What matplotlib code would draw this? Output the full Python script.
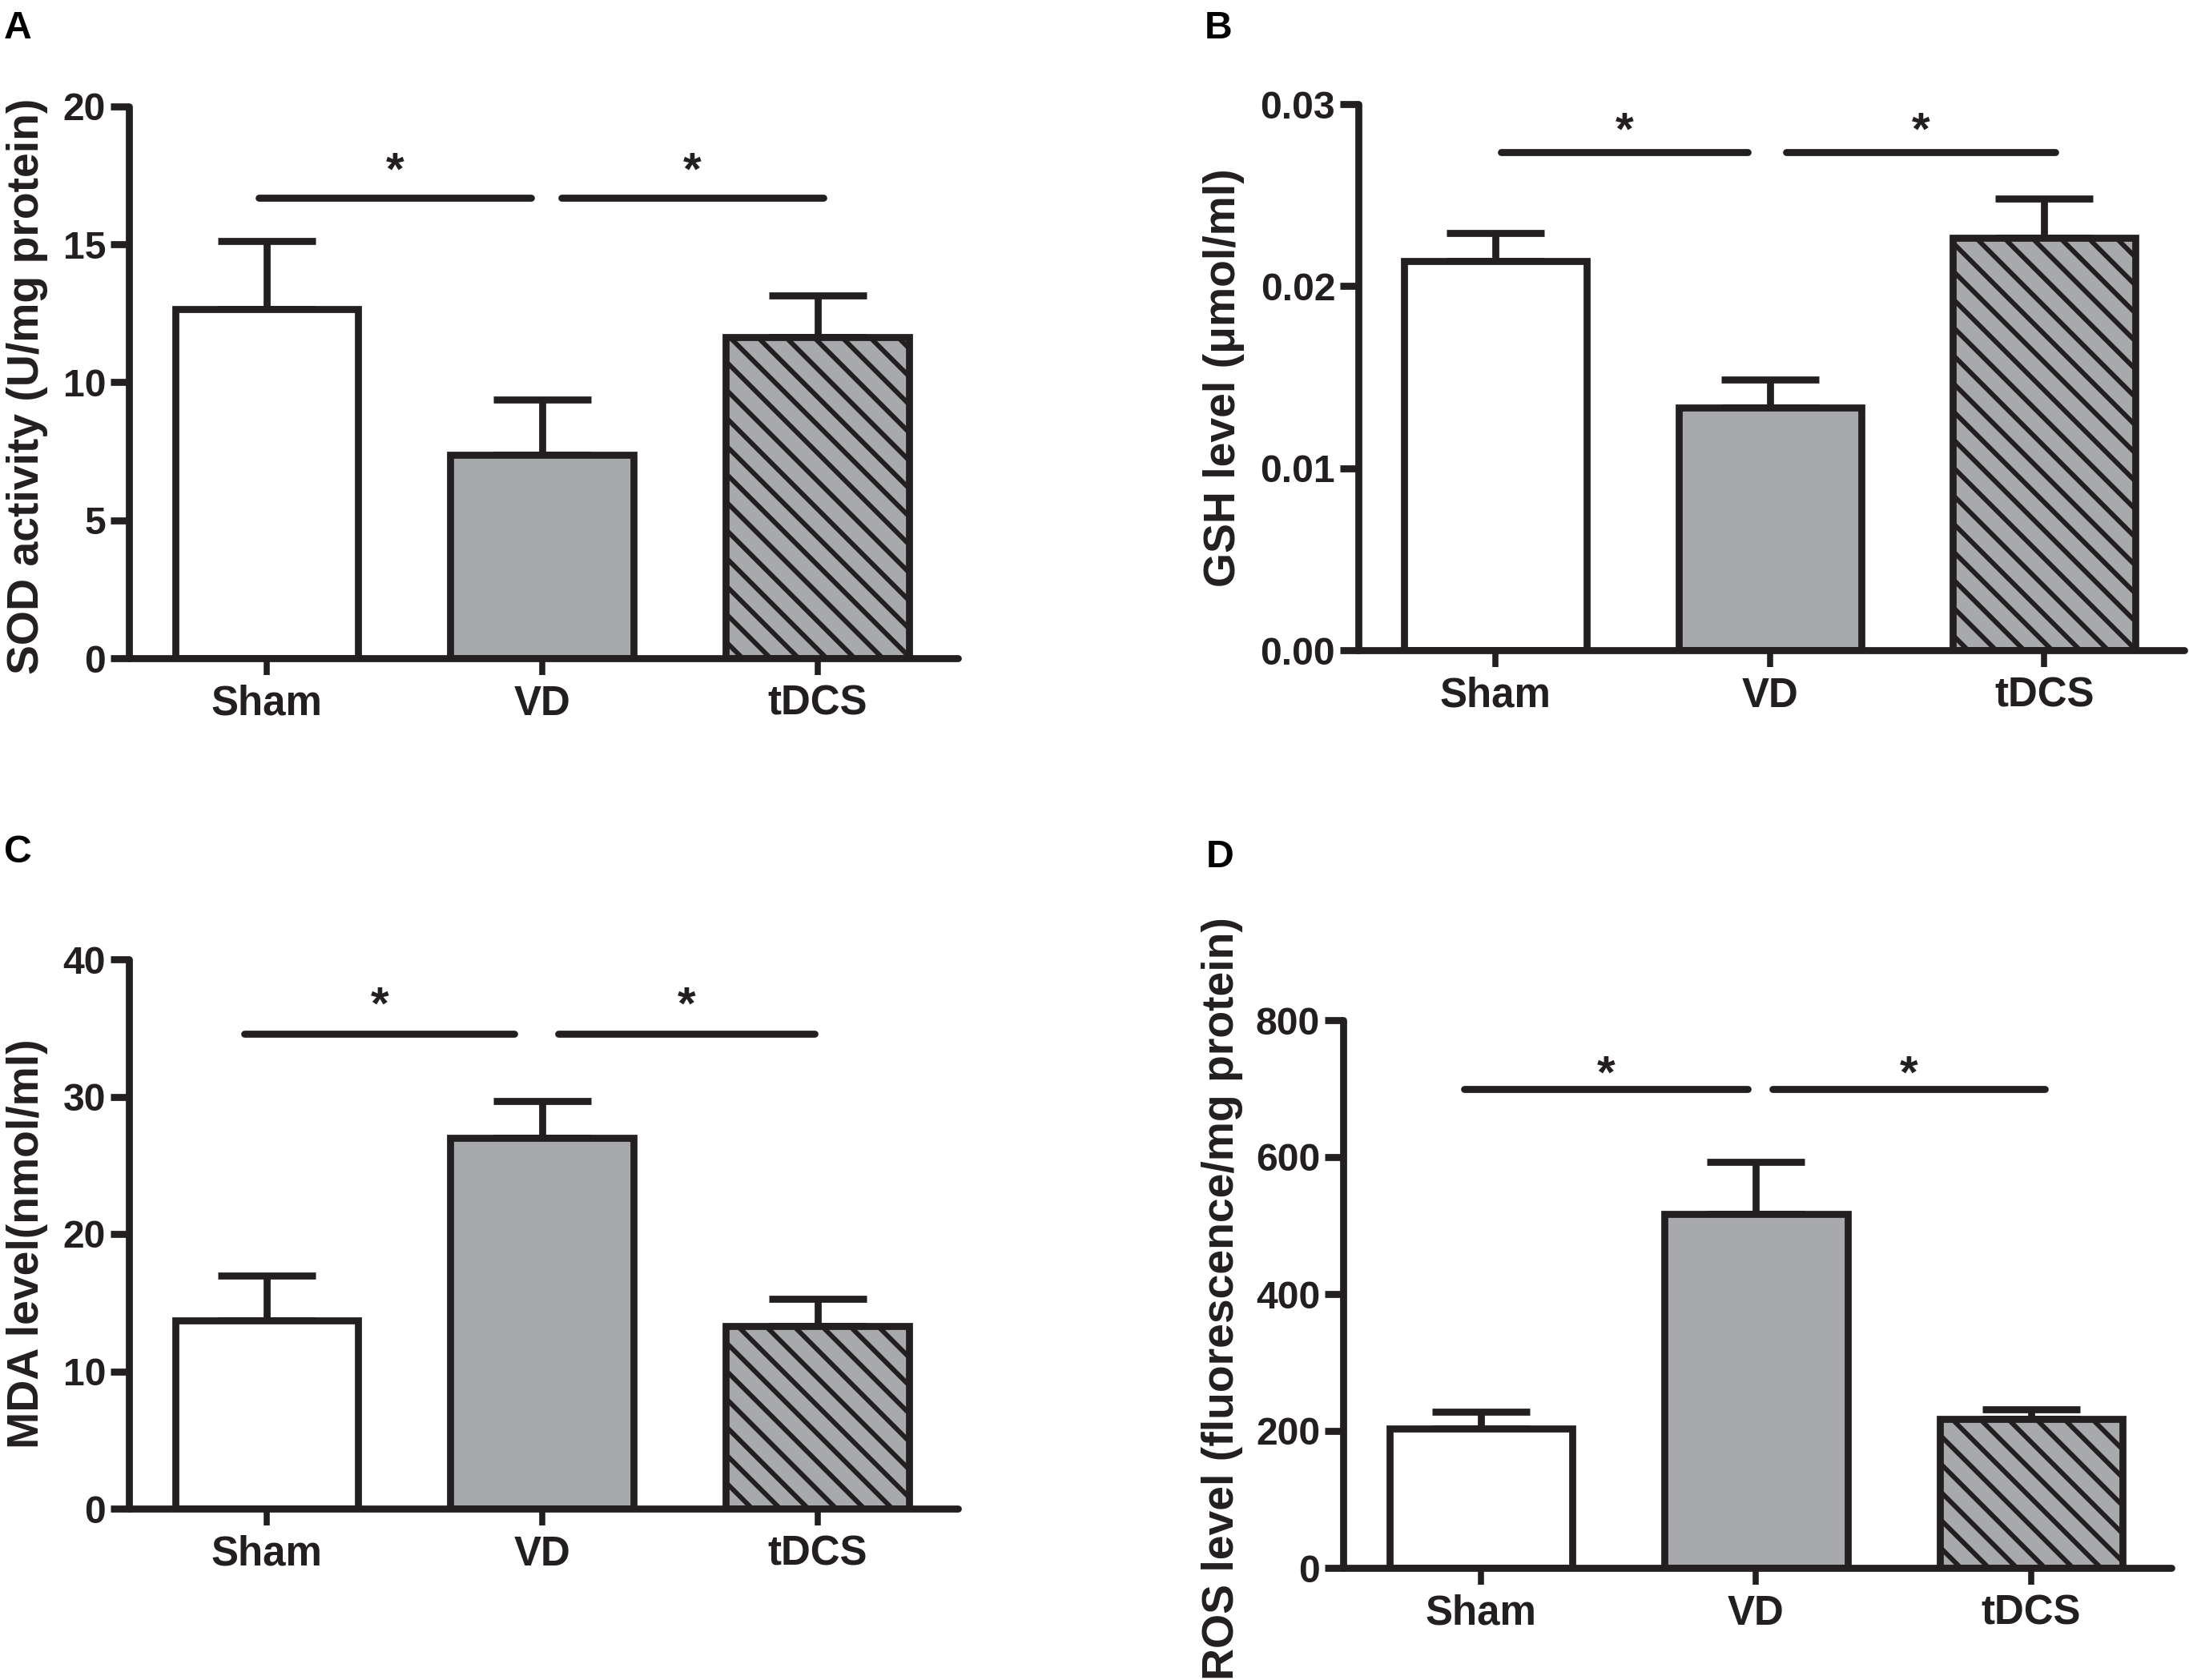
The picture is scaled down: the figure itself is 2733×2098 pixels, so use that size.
import matplotlib
matplotlib.use("Agg")
import matplotlib.pyplot as plt

# ── data ─────────────────────────────────────────────────────────────────────
groups = ["Sham", "VD", "tDCS"]

sod_mean = [12.66, 7.37, 11.65]
sod_sem = [2.46, 2.02, 1.50]

gsh_mean = [0.0214, 0.01335, 0.02264]
gsh_sem = [0.0015, 0.00154, 0.00216]

mda_mean = [13.7, 27.0, 13.3]
mda_sem = [3.27, 2.7, 2.0]

ros_mean = [203, 517, 217]
ros_sem = [24.5, 76, 14.6]

# significance bars: (x start, x end) pairs, bar height, star height
sod_sig = [(-0.03, 0.96), (1.07, 2.02)]
gsh_sig = [(0.02, 0.92), (1.06, 2.04)]
mda_sig = [(-0.08, 0.90), (1.06, 1.99)]
ros_sig = [(-0.06, 0.97), (1.06, 2.05)]
sig_y = [16.68, 0.02736, 34.6, 700]
star_y = [17.88, 0.02885, 37.1, 729.6]

sod_ticks = [0, 5, 10, 15, 20]
gsh_ticks = [0.0, 0.01, 0.02, 0.03]
gsh_ticklabels = ["0.00", "0.01", "0.02", "0.03"]
mda_ticks = [0, 10, 20, 30, 40]
ros_ticks = [0, 200, 400, 600, 800]

ylabels = [
    "SOD activity (U/mg protein)",
    "GSH level (\u03bcmol/ml)",
    "MDA level(nmol/ml)",
    "ROS level (fluorescence/mg protein)",
]
panel_letters = ["A", "B", "C", "D"]

# ── style ────────────────────────────────────────────────────────────────────
W, H, DPI = 2733, 2098, 210
INK = "#231f20"
GRAY = "#a8a9ad"

plt.rcParams["font.family"] = ["Liberation Sans", "DejaVu Sans"]
plt.rcParams["font.weight"] = "bold"
plt.rcParams["hatch.linewidth"] = 2.05
plt.rcParams["hatch.color"] = INK

LW = 3.0

fig = plt.figure(figsize=(W / DPI, H / DPI), dpi=DPI)
fig.patch.set_facecolor("white")


def px_rect(left, right, y0, ytop):
    return [left / W, 1 - y0 / H, (right - left) / W, (y0 - ytop) / H]


# axes boxes in pixels: left, right, y of zero, y of top tick
rects = [
    px_rect(161, 1196, 822, 133),
    px_rect(1696, 2727, 812, 130),
    px_rect(161, 1196, 1884, 1198),
    px_rect(1677, 2711, 1958, 1274),
]
# y-label anchor (baseline x, top y) and panel letter (left x, top y) in pixels
ylabel_pos = [(48, 123), (1542, 210), (48, 1297), (1540, 1145)]
letter_pos = [(5, 13), (1504, 13), (5, 1042), (1506, 1048)]

panels = [
    (sod_mean, sod_sem, sod_ticks, [str(t) for t in sod_ticks], sod_sig),
    (gsh_mean, gsh_sem, gsh_ticks, gsh_ticklabels, gsh_sig),
    (mda_mean, mda_sem, mda_ticks, [str(t) for t in mda_ticks], mda_sig),
    (ros_mean, ros_sem, ros_ticks, [str(t) for t in ros_ticks], ros_sig),
]

x = [0, 1, 2]
fills = ["white", GRAY, GRAY]
hatches = [None, None, "\\\\"]

for i, (means, sems, ticks, ticklabels, sig) in enumerate(panels):
    ax = fig.add_axes(rects[i])

    # error bars (upper only) drawn under the bars
    ax.errorbar(x, means, yerr=[[0, 0, 0], sems], fmt="none", ecolor=INK,
                elinewidth=LW, capsize=21, capthick=LW, zorder=1)
    for xi, m, fc, h in zip(x, means, fills, hatches):
        ax.bar(xi, m, width=0.665, color=fc, edgecolor=INK, linewidth=LW,
               hatch=h, zorder=2)

    # significance lines + stars
    for (xa, xb) in sig:
        ax.plot([xa, xb], [sig_y[i], sig_y[i]], color=INK, lw=LW,
                solid_capstyle="round", zorder=3, clip_on=False)
        ax.annotate("*", xy=((xa + xb) / 2, star_y[i]), xytext=(0, -8.5),
                    textcoords="offset points", ha="center", va="baseline",
                    fontsize=20, fontweight="bold", color=INK)

    ax.set_xlim(-0.5, 2.51)
    ax.set_ylim(0, ticks[-1])
    ax.set_yticks(ticks)
    ax.set_yticklabels(ticklabels)
    ax.set_xticks(x)
    ax.set_xticklabels(groups)

    for side in ["top", "right"]:
        ax.spines[side].set_visible(False)
    for side in ["left", "bottom"]:
        ax.spines[side].set_linewidth(LW)
        ax.spines[side].set_color(INK)
        ax.spines[side].set_capstyle("round")

    ax.tick_params(axis="y", length=7.9, width=LW, color=INK, pad=2,
                   labelsize=16.5, labelcolor=INK)
    ax.tick_params(axis="x", length=7.2, width=2.6, color=INK, pad=4,
                   labelsize=17.5, labelcolor=INK)
    for lab in ax.get_xticklabels() + ax.get_yticklabels():
        lab.set_fontweight("bold")

    bx, ty = ylabel_pos[i]
    fig.text(bx / W, 1 - ty / H, ylabels[i], rotation=90, rotation_mode="anchor",
             ha="right", va="baseline", fontsize=19, fontweight="bold", color=INK)

    lx, ly = letter_pos[i]
    fig.text(lx / W, 1 - ly / H, panel_letters[i], ha="left", va="top",
             fontsize=16.5, fontweight="bold", color="black")

fig.savefig("out.png", dpi=DPI, facecolor="white")
